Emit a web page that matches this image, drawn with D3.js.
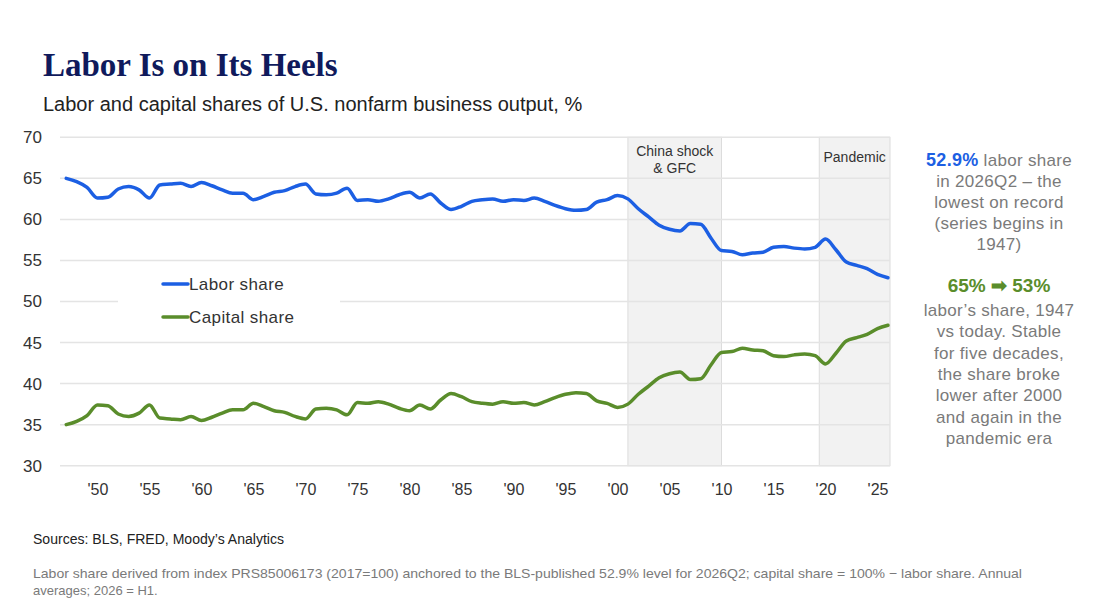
<!DOCTYPE html>
<html>
<head>
<meta charset="utf-8">
<script src="https://cdn.jsdelivr.net/npm/d3@7"></script>
<style>
  body { margin: 0; background: #fff; }
  text { font-family: "Liberation Sans", Arial, sans-serif; }
</style>
</head>
<body>
<div id="chart"></div>
<script>
// annual averages, 1947..2026 (2026 = H1)
const years = d3.range(1947, 2027);

const laborShare = [
  65.0, 64.6, 63.9, 62.6, 62.7, 63.7, 64.0, 63.6, 62.6, 64.2,
  64.3, 64.4, 64.0, 64.5, 64.1, 63.6, 63.2, 63.2, 62.4, 62.8,
  63.3, 63.5, 64.0, 64.3, 63.1, 63.0, 63.2, 63.8, 62.3, 62.4,
  62.2, 62.5, 63.0, 63.3, 62.6, 63.1, 62.0, 61.2, 61.6, 62.2,
  62.4, 62.5, 62.2, 62.4, 62.3, 62.6, 62.2, 61.7, 61.3, 61.1,
  61.2, 62.1, 62.4, 62.9, 62.5, 61.3, 60.3, 59.3, 58.8, 58.6,
  59.5, 59.4, 57.7, 56.2, 56.1, 55.7, 55.9, 56.0, 56.6, 56.7,
  56.5, 56.4, 56.6, 57.6, 56.3, 54.8, 54.4, 54.0, 53.3, 52.9
];

const capitalShare = [
  35.0, 35.4, 36.1, 37.4, 37.3, 36.3, 36.0, 36.4, 37.4, 35.8,
  35.7, 35.6, 36.0, 35.5, 35.9, 36.4, 36.8, 36.8, 37.6, 37.2,
  36.7, 36.5, 36.0, 35.7, 36.9, 37.0, 36.8, 36.2, 37.7, 37.6,
  37.8, 37.5, 37.0, 36.7, 37.4, 36.9, 38.0, 38.8, 38.4, 37.8,
  37.6, 37.5, 37.8, 37.6, 37.7, 37.4, 37.8, 38.3, 38.7, 38.9,
  38.8, 37.9, 37.6, 37.1, 37.5, 38.7, 39.7, 40.7, 41.2, 41.4,
  40.5, 40.6, 42.3, 43.8, 43.9, 44.3, 44.1, 44.0, 43.4, 43.3,
  43.5, 43.6, 43.4, 42.4, 43.7, 45.2, 45.6, 46.0, 46.7, 47.1
];

const yTicks = [30, 35, 40, 45, 50, 55, 60, 65, 70];
const xTicks = [1950, 1955, 1960, 1965, 1970, 1975, 1980, 1985, 1990, 1995, 2000, 2005, 2010, 2015, 2020, 2025];

const eraNames = [["China shock", "& GFC"], ["Pandemic"]];
const eraStarts = [2001, 2019.4];
const eraEnds = [2010, 2026.2];

const seriesNames = ["Labor share", "Capital share"];
const seriesColors = ["#1c5fe3", "#5a8d2b"];

const noteLabor = ["labor share", "in 2026Q2 \u2013 the", "lowest on record", "(series begins in", "1947)"];
const noteTrend = ["labor\u2019s share, 1947", "vs today. Stable", "for five decades,", "the share broke", "lower after 2000", "and again in the", "pandemic era"];

const W = 1104, H = 610;
const plot = { left: 60, right: 890, top: 137.3, bottom: 465.7 };

const svg = d3.select('#chart')
  .append('svg')
  .attr('width', W)
  .attr('height', H);

const x = d3.scaleLinear()
  .domain([1946.4, 2026.2])
  .range([plot.left, plot.right]);

const y = d3.scaleLinear()
  .domain([30, 70])
  .range([plot.bottom, plot.top]);

// titles
svg.append('text')
  .attr('x', 43)
  .attr('y', 76)
  .style('font-family', '"Liberation Serif", "Times New Roman", serif')
  .style('font-weight', 'bold')
  .style('font-size', '33px')
  .attr('fill', '#101a5c')
  .text('Labor Is on Its Heels');

svg.append('text')
  .attr('x', 43)
  .attr('y', 111)
  .style('font-size', '20px')
  .attr('fill', '#222')
  .text('Labor and capital shares of U.S. nonfarm business output, %');

// shaded eras
const eras = eraNames.map((n, i) => ({ name: n, start: eraStarts[i], end: eraEnds[i] }));

svg.append('g')
  .selectAll('rect')
  .data(eras)
  .join('rect')
  .attr('x', d => x(d.start))
  .attr('y', plot.top)
  .attr('width', d => x(d.end) - x(d.start))
  .attr('height', plot.bottom - plot.top)
  .attr('fill', '#f2f2f2')
  .attr('stroke', '#dcdcdc')
  .attr('stroke-width', 1);

// gridlines
svg.append('g')
  .selectAll('line')
  .data(yTicks)
  .join('line')
  .attr('x1', plot.left)
  .attr('x2', plot.right)
  .attr('y1', d => y(d))
  .attr('y2', d => y(d))
  .attr('stroke', '#e4e4e4')
  .attr('stroke-width', 1.5);

// era labels
eras.forEach(d => {
  const t = svg.append('text')
    .attr('x', (x(d.start) + x(d.end)) / 2)
    .attr('y', d.name.length > 1 ? 156 : 162)
    .attr('text-anchor', 'middle')
    .style('font-size', '14px')
    .attr('fill', '#333');
  d.name.forEach((s, i) => {
    t.append('tspan')
      .attr('x', (x(d.start) + x(d.end)) / 2)
      .attr('dy', i === 0 ? 0 : 17)
      .text(s);
  });
});

// axes
const yAxis = svg.append('g')
  .attr('transform', `translate(${plot.left}, 0)`)
  .call(d3.axisLeft(y).tickValues(yTicks).tickSize(0).tickPadding(18));
yAxis.select('.domain').remove();
yAxis.selectAll('text')
  .style('font-family', '"Liberation Sans", Arial, sans-serif')
  .style('font-size', '17px')
  .attr('fill', '#333');

const xAxis = svg.append('g')
  .attr('transform', `translate(0, ${plot.bottom})`)
  .call(d3.axisBottom(x).tickValues(xTicks).tickSize(0).tickPadding(18)
    .tickFormat(d => "'" + String(d).slice(2)));
xAxis.select('.domain').remove();
xAxis.selectAll('text')
  .style('font-family', '"Liberation Sans", Arial, sans-serif')
  .style('font-size', '16px')
  .attr('fill', '#333');

// legend
svg.append('rect')
  .attr('x', 118)
  .attr('y', 263)
  .attr('width', 222)
  .attr('height', 74)
  .attr('fill', '#fff');

const legend = svg.append('g')
  .selectAll('g')
  .data(seriesNames)
  .join('g')
  .attr('transform', (d, i) => `translate(163, ${284 + i * 33})`);

legend.append('line')
  .attr('x1', 0)
  .attr('x2', 25)
  .attr('stroke', (d, i) => seriesColors[i])
  .attr('stroke-width', 3.5)
  .attr('stroke-linecap', 'round');

legend.append('text')
  .attr('x', 26)
  .attr('dy', '0.35em')
  .style('font-size', '17px')
  .style('letter-spacing', '0.4px')
  .attr('fill', '#333')
  .text(d => d);

// lines
const line = d3.line()
  .x(d => x(d[0]))
  .y(d => y(d[1]))
  .curve(d3.curveMonotoneX);

[laborShare, capitalShare].forEach((vals, i) => {
  svg.append('path')
    .datum(years.map((yr, j) => [yr, vals[j]]))
    .attr('fill', 'none')
    .attr('stroke', seriesColors[i])
    .attr('stroke-width', 3.5)
    .attr('stroke-linejoin', 'round')
    .attr('stroke-linecap', 'round')
    .attr('d', line);
});

// right-hand notes
const noteX = 999;
const n1 = svg.append('text')
  .attr('text-anchor', 'middle')
  .style('font-size', '17px')
  .style('letter-spacing', '0.3px')
  .attr('fill', '#7a7a7a');

const first = n1.append('tspan').attr('x', noteX).attr('y', 166);
first.append('tspan')
  .style('font-weight', 'bold')
  .style('font-size', '18px')
  .attr('fill', '#1c5fe3')
  .text('52.9%');
first.append('tspan').text(' ' + noteLabor[0]);

noteLabor.slice(1).forEach((s, i) => {
  n1.append('tspan')
    .attr('x', noteX)
    .attr('y', 166 + (i + 1) * 21)
    .text(s);
});

svg.append('text')
  .attr('x', noteX)
  .attr('y', 292)
  .attr('text-anchor', 'middle')
  .style('font-weight', 'bold')
  .style('font-size', '19px')
  .attr('fill', '#5a8d2b')
  .text('65% \u27a1 53%');

const n2 = svg.append('text')
  .attr('text-anchor', 'middle')
  .style('font-size', '17px')
  .style('letter-spacing', '0.3px')
  .attr('fill', '#7a7a7a');

noteTrend.forEach((s, i) => {
  n2.append('tspan')
    .attr('x', noteX)
    .attr('y', 316 + i * 21.3)
    .text(s);
});

// sources and notes
svg.append('text')
  .attr('x', 33)
  .attr('y', 544)
  .style('font-size', '14px')
  .attr('textLength', 251)
  .attr('lengthAdjust', 'spacingAndGlyphs')
  .attr('fill', '#222')
  .text('Sources: BLS, FRED, Moody\u2019s Analytics');

svg.append('text')
  .attr('x', 33)
  .attr('y', 578)
  .style('font-size', '13px')
  .attr('textLength', 989)
  .attr('lengthAdjust', 'spacingAndGlyphs')
  .attr('fill', '#7a7a7a')
  .text('Labor share derived from index PRS85006173 (2017=100) anchored to the BLS-published 52.9% level for 2026Q2; capital share = 100% \u2212 labor share. Annual');

svg.append('text')
  .attr('x', 33)
  .attr('y', 595)
  .style('font-size', '13px')
  .attr('fill', '#7a7a7a')
  .text('averages; 2026 = H1.');
</script>
</body>
</html>
